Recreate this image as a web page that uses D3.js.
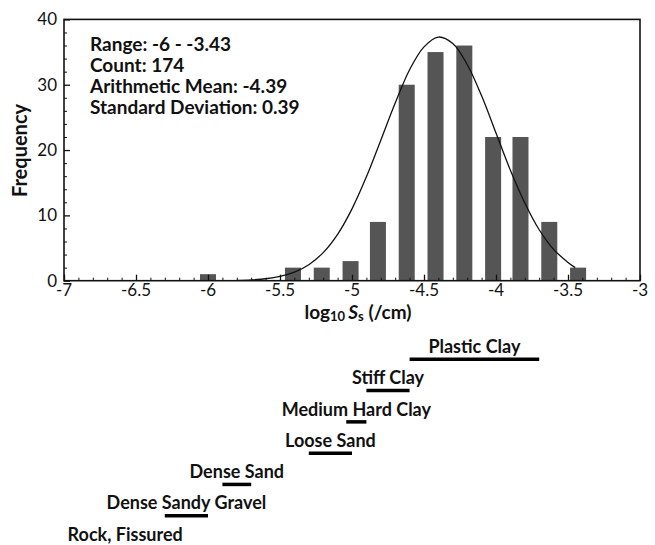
<!DOCTYPE html>
<html>
<head>
<meta charset="utf-8">
<script src="https://cdn.jsdelivr.net/npm/d3@7"></script>
<style>
  body { margin: 0; background: #fff; }
  svg { display: block; font-family: Lato, "Open Sans", sans-serif; }
</style>
</head>
<body>
<div id="chart"></div>
<script>
// histogram bins (centres) and counts
const binCenters = [-6.0, -5.41, -5.21, -5.01, -4.82, -4.62, -4.42, -4.22, -4.02, -3.83, -3.63, -3.43];
const binCounts  = [1, 2, 2, 3, 9, 30, 35, 36, 22, 22, 9, 2];

// fitted normal curve
const curveX = [-5.8, -5.7, -5.6, -5.5, -5.4, -5.3, -5.2, -5.1, -5.0, -4.9, -4.8, -4.7, -4.6, -4.5, -4.4,
                -4.3, -4.2, -4.1, -4.0, -3.9, -3.8, -3.7, -3.6, -3.5, -3.45];
const curveY = [0.05, 0.13, 0.3, 0.65, 1.3, 2.45, 4.3, 7.1, 11.0, 15.9, 21.5, 27.2, 32.3, 35.8, 37.3,
                36.3, 33.1, 28.3, 22.6, 16.9, 11.9, 7.8, 4.8, 2.8, 2.0];

const statLines = ["Range: -6 - -3.43", "Count: 174", "Arithmetic Mean: -4.39", "Standard Deviation: 0.39"];

const xTicks = [-7, -6.5, -6, -5.5, -5, -4.5, -4, -3.5, -3];
const yTicks = [0, 10, 20, 30, 40];

// soil types and their ranges of log10 Ss
const soilNames = ["Plastic Clay", "Stiff Clay", "Medium Hard Clay", "Loose Sand", "Dense Sand", "Dense Sandy Gravel", "Rock, Fissured"];
const soilLow   = [-4.6, -4.9, -5.04, -5.3, -5.9, -6.3, -7.0];
const soilHigh  = [-3.7, -4.6, -4.9, -5.0, -5.7, -6.0, -6.15];

const W = 655, H = 545;
const svg = d3.select("#chart").append("svg").attr("width", W).attr("height", H);

const x = d3.scaleLinear().domain([-7, -3]).range([64, 640]);
const y = d3.scaleLinear().domain([0, 40]).range([280.7, 19.4]);

// bars
const halfW = 0.0556;
svg.append("g").selectAll("rect").data(binCenters).enter().append("rect")
  .attr("x", d => x(d - halfW))
  .attr("width", d => x(d + halfW) - x(d - halfW))
  .attr("y", (d, i) => y(binCounts[i]))
  .attr("height", (d, i) => y(0) - y(binCounts[i]))
  .attr("fill", "#555");

// normal curve
const line = d3.line().x(d => x(d[0])).y(d => y(d[1])).curve(d3.curveCatmullRom);
svg.append("path")
  .datum(curveX.map((v, i) => [v, curveY[i]]))
  .attr("d", line)
  .attr("fill", "none").attr("stroke", "#111").attr("stroke-width", 1.3);

// frame
svg.append("rect")
  .attr("x", x(-7)).attr("y", y(40))
  .attr("width", x(-3) - x(-7)).attr("height", y(0) - y(40))
  .attr("fill", "none").attr("stroke", "#111").attr("stroke-width", 1.6);

// x axis: major ticks inside, minor every 0.1
const xAxis = d3.axisTop(x).tickValues(xTicks).tickSize(6).tickFormat("");
const gx = svg.append("g").attr("transform", `translate(0,${y(0)})`).call(xAxis);
gx.select(".domain").remove();
gx.selectAll("line").attr("stroke", "#111").attr("stroke-width", 1.3);
const xMinor = d3.range(-7, -3.001, 0.1).filter(v => Math.abs(v * 2 - Math.round(v * 2)) > 0.01);
const gxm = svg.append("g").attr("transform", `translate(0,${y(0)})`)
  .call(d3.axisTop(x).tickValues(xMinor).tickSize(3).tickFormat(""));
gxm.select(".domain").remove();
gxm.selectAll("line").attr("stroke", "#111").attr("stroke-width", 1);

svg.append("g").selectAll("text").data(xTicks).enter().append("text")
  .attr("x", d => x(d)).attr("y", 296)
  .attr("text-anchor", "middle").attr("font-size", 17).attr("fill", "#111")
  .text(d => d);

// y axis
const gy = svg.append("g").attr("transform", `translate(${x(-7)},0)`)
  .call(d3.axisRight(y).tickValues(yTicks).tickSize(6).tickFormat(""));
gy.select(".domain").remove();
gy.selectAll("line").attr("stroke", "#111").attr("stroke-width", 1.3);
const yMinor = d3.range(2, 40, 2).filter(v => v % 10 !== 0);
const gym = svg.append("g").attr("transform", `translate(${x(-7)},0)`)
  .call(d3.axisRight(y).tickValues(yMinor).tickSize(3).tickFormat(""));
gym.select(".domain").remove();
gym.selectAll("line").attr("stroke", "#111").attr("stroke-width", 1);

svg.append("g").selectAll("text").data(yTicks).enter().append("text")
  .attr("x", 57).attr("y", d => y(d) + 6)
  .attr("text-anchor", "end").attr("font-size", 17).attr("fill", "#111")
  .text(d => d);

// axis titles
svg.append("text")
  .attr("transform", "translate(27,150.5) rotate(-90)")
  .attr("text-anchor", "middle").attr("font-size", 20).attr("font-weight", "bold").attr("fill", "#111")
  .text("Frequency");

const xt = svg.append("text")
  .attr("x", 358).attr("y", 319)
  .attr("text-anchor", "middle").attr("font-size", 19).attr("font-weight", "bold").attr("fill", "#111");
xt.append("tspan").text("log");
xt.append("tspan").attr("font-size", 13).attr("dy", 2).text("10 ");
xt.append("tspan").attr("font-style", "italic").attr("dy", -2).text("S");
xt.append("tspan").attr("font-size", 13).attr("dy", 2).text("s");
xt.append("tspan").attr("dy", -2).text(" (/cm)");

// statistics box
svg.append("g").selectAll("text").data(statLines).enter().append("text")
  .attr("x", 90).attr("y", (d, i) => 51 + i * 21)
  .attr("font-size", 19).attr("font-weight", "bold").attr("fill", "#111")
  .text(d => d);

// soil ranges below the chart
const rowBase = d3.scaleLinear().domain([0, 6]).range([353, 540.7]);
const soil = svg.append("g").selectAll("g").data(soilNames).enter().append("g");
soil.append("line")
  .attr("x1", (d, i) => x(soilLow[i])).attr("x2", (d, i) => x(soilHigh[i]))
  .attr("y1", (d, i) => rowBase(i) + 6.3).attr("y2", (d, i) => rowBase(i) + 6.3)
  .attr("stroke", "#000").attr("stroke-width", 3.5);
soil.append("text")
  .attr("x", (d, i) => (x(soilLow[i]) + x(soilHigh[i])) / 2)
  .attr("y", (d, i) => rowBase(i))
  .attr("text-anchor", "middle").attr("font-size", 18).attr("font-weight", "bold").attr("fill", "#111")
  .text(d => d);
</script>
</body>
</html>
